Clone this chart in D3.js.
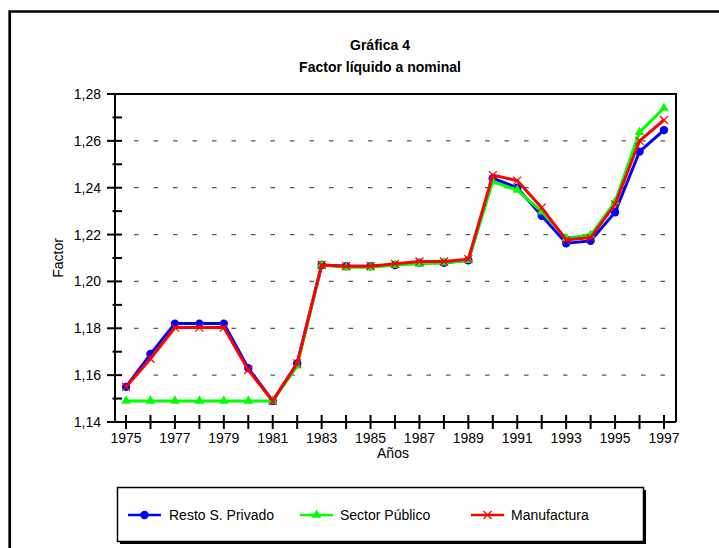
<!DOCTYPE html>
<html><head><meta charset="utf-8">
<script src="https://cdn.jsdelivr.net/npm/d3@7"></script>
<style>
body{margin:0;background:#fff;}
text{font-family:"Liberation Sans",Arial,sans-serif;fill:#000;}
</style></head>
<body>
<svg id="chart" width="719" height="548"></svg>
<script>
const years = d3.range(1975, 1998);
const xTickLabels = [1975,1977,1979,1981,1983,1985,1987,1989,1991,1993,1995,1997];
const yTickLabels = [1.14,1.16,1.18,1.20,1.22,1.24,1.26,1.28];
const restoPrivado = [1.155,1.169,1.182,1.182,1.182,1.163,1.149,1.165,1.207,1.2065,1.2065,1.207,1.208,1.208,1.209,1.244,1.240,1.228,1.2163,1.2173,1.2295,1.2554,1.2646];
const sectorPublico = [1.149,1.149,1.149,1.149,1.149,1.149,1.149,1.164,1.207,1.206,1.206,1.207,1.2075,1.208,1.209,1.2426,1.239,1.2298,1.2184,1.2198,1.234,1.2637,1.274];
const manufactura = [1.155,1.167,1.1803,1.1803,1.1803,1.1622,1.149,1.165,1.207,1.2065,1.2065,1.2075,1.2085,1.2085,1.2095,1.2454,1.243,1.2315,1.2177,1.2187,1.2329,1.260,1.2689];
const seriesNames = ["Resto S. Privado","Sector Público","Manufactura"];
const seriesColors = ["#0000ff","#00ff00","#ff0000"];
const seriesShapes = ["circle","triangle","cross"];

const svg = d3.select("#chart");
const L=115, R=676, T=94, B=422;
const x = d3.scaleLinear().domain([1974.5,1997.5]).range([L-1.2,R+0.2]);
const y = d3.scaleLinear().domain([1.14,1.28]).range([B,T]);

// outer frame (cut off at right and bottom)
svg.append("path").attr("d","M9.7,560 V11.5 H730").attr("fill","none").attr("stroke","#000").attr("stroke-width",2.7);

// titles
svg.append("text").attr("x",380).attr("y",50).attr("text-anchor","middle").attr("font-size",14).attr("font-weight","bold").text("Gráfica 4");
svg.append("text").attr("x",380).attr("y",72).attr("text-anchor","middle").attr("font-size",14).attr("font-weight","bold").text("Factor líquido a nominal");

// gridlines
const grid = svg.append("g");
[1.16,1.18,1.20,1.22,1.24,1.26].forEach(v=>{
  grid.append("line").attr("x1",L+19).attr("x2",666).attr("y1",y(v)).attr("y2",y(v))
    .attr("stroke","#555").attr("stroke-width",1.2).attr("stroke-dasharray","4.5,15");
});

// plot frame top and right
svg.append("path").attr("d",`M${L},${T} H${R} V${B}`).attr("fill","none").attr("stroke","#000").attr("stroke-width",2);

// y axis
const yAxis = svg.append("g");
yAxis.append("line").attr("x1",L).attr("x2",L).attr("y1",T).attr("y2",B).attr("stroke","#000").attr("stroke-width",2);
d3.range(0,15).forEach(i=>{
  const v = 1.14 + i*0.01;
  const major = i%2===0;
  yAxis.append("line").attr("x1",major?107:112.5).attr("x2",122).attr("y1",y(v)).attr("y2",y(v)).attr("stroke","#000").attr("stroke-width",2);
});
yTickLabels.forEach(v=>{
  yAxis.append("text").attr("x",101).attr("y",y(v)+5).attr("text-anchor","end").attr("font-size",14)
    .text(d3.format(".2f")(v).replace(".",","));
});
svg.append("text").attr("transform","translate(63,258) rotate(-90)").attr("text-anchor","middle").attr("font-size",14).text("Factor");

// x axis
const xAxis = svg.append("g");
xAxis.append("line").attr("x1",L-8).attr("x2",R).attr("y1",B).attr("y2",B).attr("stroke","#000").attr("stroke-width",2);
years.forEach(yr=>{
  xAxis.append("line").attr("x1",x(yr)).attr("x2",x(yr)).attr("y1",415).attr("y2",429).attr("stroke","#000").attr("stroke-width",2);
});
xTickLabels.forEach(yr=>{
  xAxis.append("text").attr("x",x(yr)).attr("y",443).attr("text-anchor","middle").attr("font-size",14).text(yr);
});
svg.append("text").attr("x",393).attr("y",458).attr("text-anchor","middle").attr("font-size",14).text("Años");

// marker drawing
function marker(g, shape, cx, cy, color){
  if(shape==="circle"){
    g.append("circle").attr("cx",cx).attr("cy",cy).attr("r",4.2).attr("fill",color);
  } else if(shape==="triangle"){
    g.append("path").attr("d",d3.symbol(d3.symbolTriangle,40)()).attr("transform",`translate(${cx},${cy})`).attr("fill",color);
  } else {
    const s=4;
    g.append("path").attr("d",`M${cx-s},${cy-s}L${cx+s},${cy+s}M${cx-s},${cy+s}L${cx+s},${cy-s}`).attr("stroke",color).attr("stroke-width",1.2);
  }
}

// series
const allSeries = [restoPrivado, sectorPublico, manufactura];
const line = d3.line().x((d,i)=>x(years[i])).y(d=>y(d));
allSeries.forEach((vals,k)=>{
  const g = svg.append("g");
  g.append("path").datum(vals).attr("d",line).attr("fill","none").attr("stroke",seriesColors[k]).attr("stroke-width",3).attr("stroke-linejoin","miter");
  vals.forEach((v,i)=>marker(g, seriesShapes[k], x(years[i]), y(v), seriesColors[k]));
});

// legend
const lg = svg.append("g");
lg.append("rect").attr("x",120).attr("y",490).attr("width",526).attr("height",54).attr("fill","#000");
lg.append("rect").attr("x",117.5).attr("y",487.5).attr("width",526).attr("height",54).attr("fill","#fff").attr("stroke","#000").attr("stroke-width",1.5);
const legX = [128,300,471];
const textX = [169,340,511];
seriesNames.forEach((name,k)=>{
  const ly = 515;
  lg.append("line").attr("x1",legX[k]).attr("x2",legX[k]+33).attr("y1",ly).attr("y2",ly).attr("stroke",seriesColors[k]).attr("stroke-width",2.5);
  marker(lg, seriesShapes[k], legX[k]+16.5, ly, seriesColors[k]);
  lg.append("text").attr("x",textX[k]).attr("y",ly+5).attr("font-size",14).text(name);
});
</script>
</body></html>
